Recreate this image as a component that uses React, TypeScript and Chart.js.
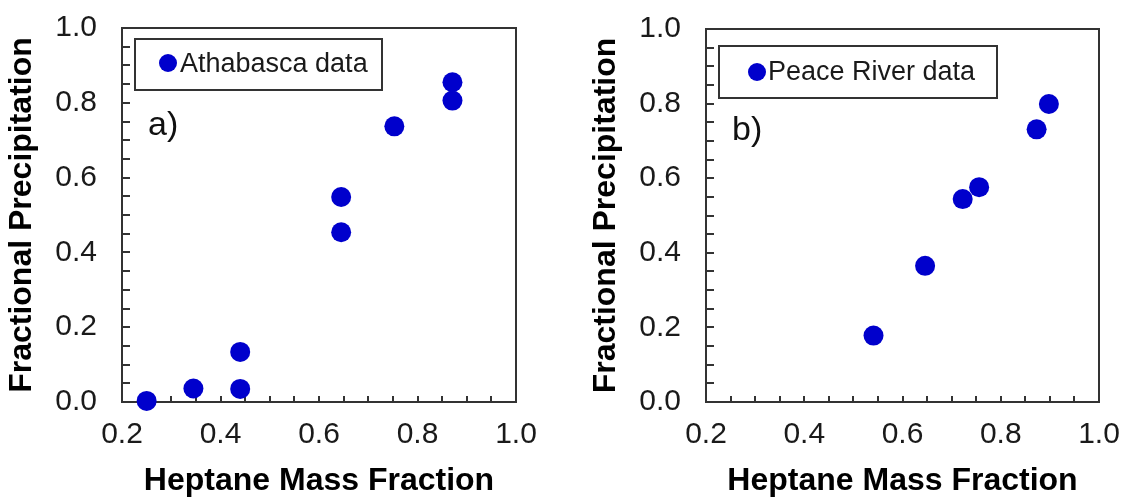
import React, { useEffect, useRef } from 'react';
import { Chart, registerables } from 'chart.js';
Chart.register(...registerables);

const xTickValues = [0.2, 0.4, 0.6, 0.8, 1.0];
const yTickValues = [0.0, 0.2, 0.4, 0.6, 0.8, 1.0];
const xMinorStep = 0.05;
const yMinorStep = 0.05;

const athabascaX = [0.25, 0.345, 0.44, 0.44, 0.645, 0.645, 0.753, 0.871, 0.871];
const athabascaY = [0.003, 0.036, 0.035, 0.134, 0.548, 0.454, 0.737, 0.855, 0.806];
const peaceX = [0.541, 0.646, 0.7225, 0.756, 0.873, 0.898];
const peaceY = [0.178, 0.365, 0.544, 0.576, 0.731, 0.799];

const xTitle = 'Heptane Mass Fraction';
const yTitle = 'Fractional Precipitation';

const FONT = "'Liberation Sans', Arial, sans-serif";
const MARKER = '#0000CC';

type PanelProps = {
  xs: number[];
  ys: number[];
  label: string;
  tag: string;
  left: number;
  width: number;
  padTop: number;
  padRight: number;
  box: { x: number; y: number; w: number; h: number; mx: number; my: number; tx: number; ty: number };
  tagPos: { x: number; y: number };
};

function Panel(p: PanelProps) {
  const ref = useRef<HTMLCanvasElement | null>(null);
  useEffect(() => {
    if (!ref.current) return;
    const deco = {
      id: 'deco',
      beforeDatasetsDraw(chart: any) {
        const { ctx, chartArea: a, scales } = chart;
        const x = scales.x;
        const y = scales.y;
        ctx.save();
        ctx.strokeStyle = '#333';
        ctx.lineWidth = 2;
        ctx.beginPath();
        for (let i = 1; i * yMinorStep < 0.999; i++) {
          const py = Math.round(y.getPixelForValue(i * yMinorStep));
          ctx.moveTo(a.left, py);
          ctx.lineTo(a.left + 8, py);
        }
        for (let i = 1; 0.2 + i * xMinorStep < 0.999; i++) {
          const px = Math.round(x.getPixelForValue(0.2 + i * xMinorStep));
          ctx.moveTo(px, a.bottom);
          ctx.lineTo(px, a.bottom - 6);
        }
        ctx.stroke();
        ctx.strokeRect(a.left, a.top, a.right - a.left, a.bottom - a.top);
        ctx.restore();
      },
      afterDatasetsDraw(chart: any) {
        const { ctx, chartArea: a } = chart;
        const b = p.box;
        ctx.save();
        ctx.fillStyle = '#fff';
        ctx.fillRect(a.left + b.x, a.top + b.y, b.w, b.h);
        ctx.strokeStyle = '#333';
        ctx.lineWidth = 2;
        ctx.strokeRect(a.left + b.x, a.top + b.y, b.w, b.h);
        ctx.fillStyle = MARKER;
        ctx.beginPath();
        ctx.arc(a.left + b.mx, a.top + b.my, 9, 0, Math.PI * 2);
        ctx.fill();
        ctx.fillStyle = '#1a1a1a';
        ctx.font = `27px ${FONT}`;
        ctx.textBaseline = 'alphabetic';
        ctx.textAlign = 'left';
        ctx.fillText(p.label, a.left + b.tx, a.top + b.ty);
        ctx.font = `34px ${FONT}`;
        ctx.fillStyle = '#111';
        ctx.fillText(p.tag, a.left + p.tagPos.x, a.top + p.tagPos.y);
        ctx.restore();
      },
    };
    const tickFont = { family: FONT, size: 30 };
    const titleFont = { family: FONT, size: 32, weight: 'bold' as const, lineHeight: 1 };
    const chart = new Chart(ref.current, {
      type: 'scatter',
      data: {
        datasets: [
          {
            label: p.label,
            data: p.xs.map((v, i) => ({ x: v, y: p.ys[i] })),
            backgroundColor: MARKER,
            borderColor: MARKER,
            borderWidth: 0,
            pointRadius: 10,
            pointHoverRadius: 10,
            clip: false as any,
          },
        ],
      },
      options: {
        animation: false,
        responsive: false,
        devicePixelRatio: 1,
        layout: { padding: { top: p.padTop, right: p.padRight, left: 0, bottom: 0 } },
        plugins: { legend: { display: false }, tooltip: { enabled: false } },
        scales: {
          x: {
            type: 'linear',
            position: 'bottom',
            min: 0.2,
            max: 1.0,
            afterBuildTicks: (s: any) => {
              s.ticks = xTickValues.map((v) => ({ value: v }));
            },
            afterFit: (s: any) => {
              s.height = 95;
              s.paddingLeft = 0;
              s.paddingRight = 0;
            },
            grid: { display: false, drawTicks: false },
            border: { display: false },
            ticks: {
              callback: (v: any) => Number(v).toFixed(1),
              font: tickFont,
              color: '#1a1a1a',
              padding: 15,
              maxRotation: 0,
              autoSkip: false,
            },
            title: { display: true, text: xTitle, font: titleFont, color: '#000', padding: { top: 0, bottom: 0 } },
          },
          y: {
            type: 'linear',
            position: 'left',
            min: 0,
            max: 1.0,
            afterBuildTicks: (s: any) => {
              s.ticks = yTickValues.map((v) => ({ value: v }));
            },
            afterFit: (s: any) => {
              s.width = 122;
              s.paddingTop = 0;
              s.paddingBottom = 0;
            },
            grid: { display: false, drawTicks: false },
            border: { display: false },
            ticks: {
              callback: (v: any) => Number(v).toFixed(1),
              font: tickFont,
              color: '#1a1a1a',
              padding: 25,
              autoSkip: false,
            },
            title: { display: true, text: yTitle, font: titleFont, color: '#000', padding: { top: 6, bottom: 0 } },
          },
        },
      },
      plugins: [deco],
    });
    return () => chart.destroy();
  }, []);
  return (
    <canvas
      ref={ref}
      width={p.width}
      height={497}
      style={{ position: 'absolute', left: p.left, top: 0, width: p.width, height: 497 }}
    />
  );
}

export default function App() {
  return (
    <div style={{ position: 'fixed', left: 0, top: 0, width: 1123, height: 497, background: '#fff' }}>
      <Panel
        xs={athabascaX}
        ys={athabascaY}
        label="Athabasca data"
        tag="a)"
        left={0}
        width={584}
        padTop={28}
        padRight={68}
        box={{ x: 13, y: 11, w: 247, h: 51, mx: 46, my: 35, tx: 58, ty: 44 }}
        tagPos={{ x: 26, y: 107 }}
      />
      <Panel
        xs={peaceX}
        ys={peaceY}
        label="Peace River data"
        tag="b)"
        left={584}
        width={539}
        padTop={29}
        padRight={24}
        box={{ x: 13, y: 17, w: 278, h: 52, mx: 51, my: 43, tx: 62, ty: 51 }}
        tagPos={{ x: 26, y: 111 }}
      />
    </div>
  );
}
